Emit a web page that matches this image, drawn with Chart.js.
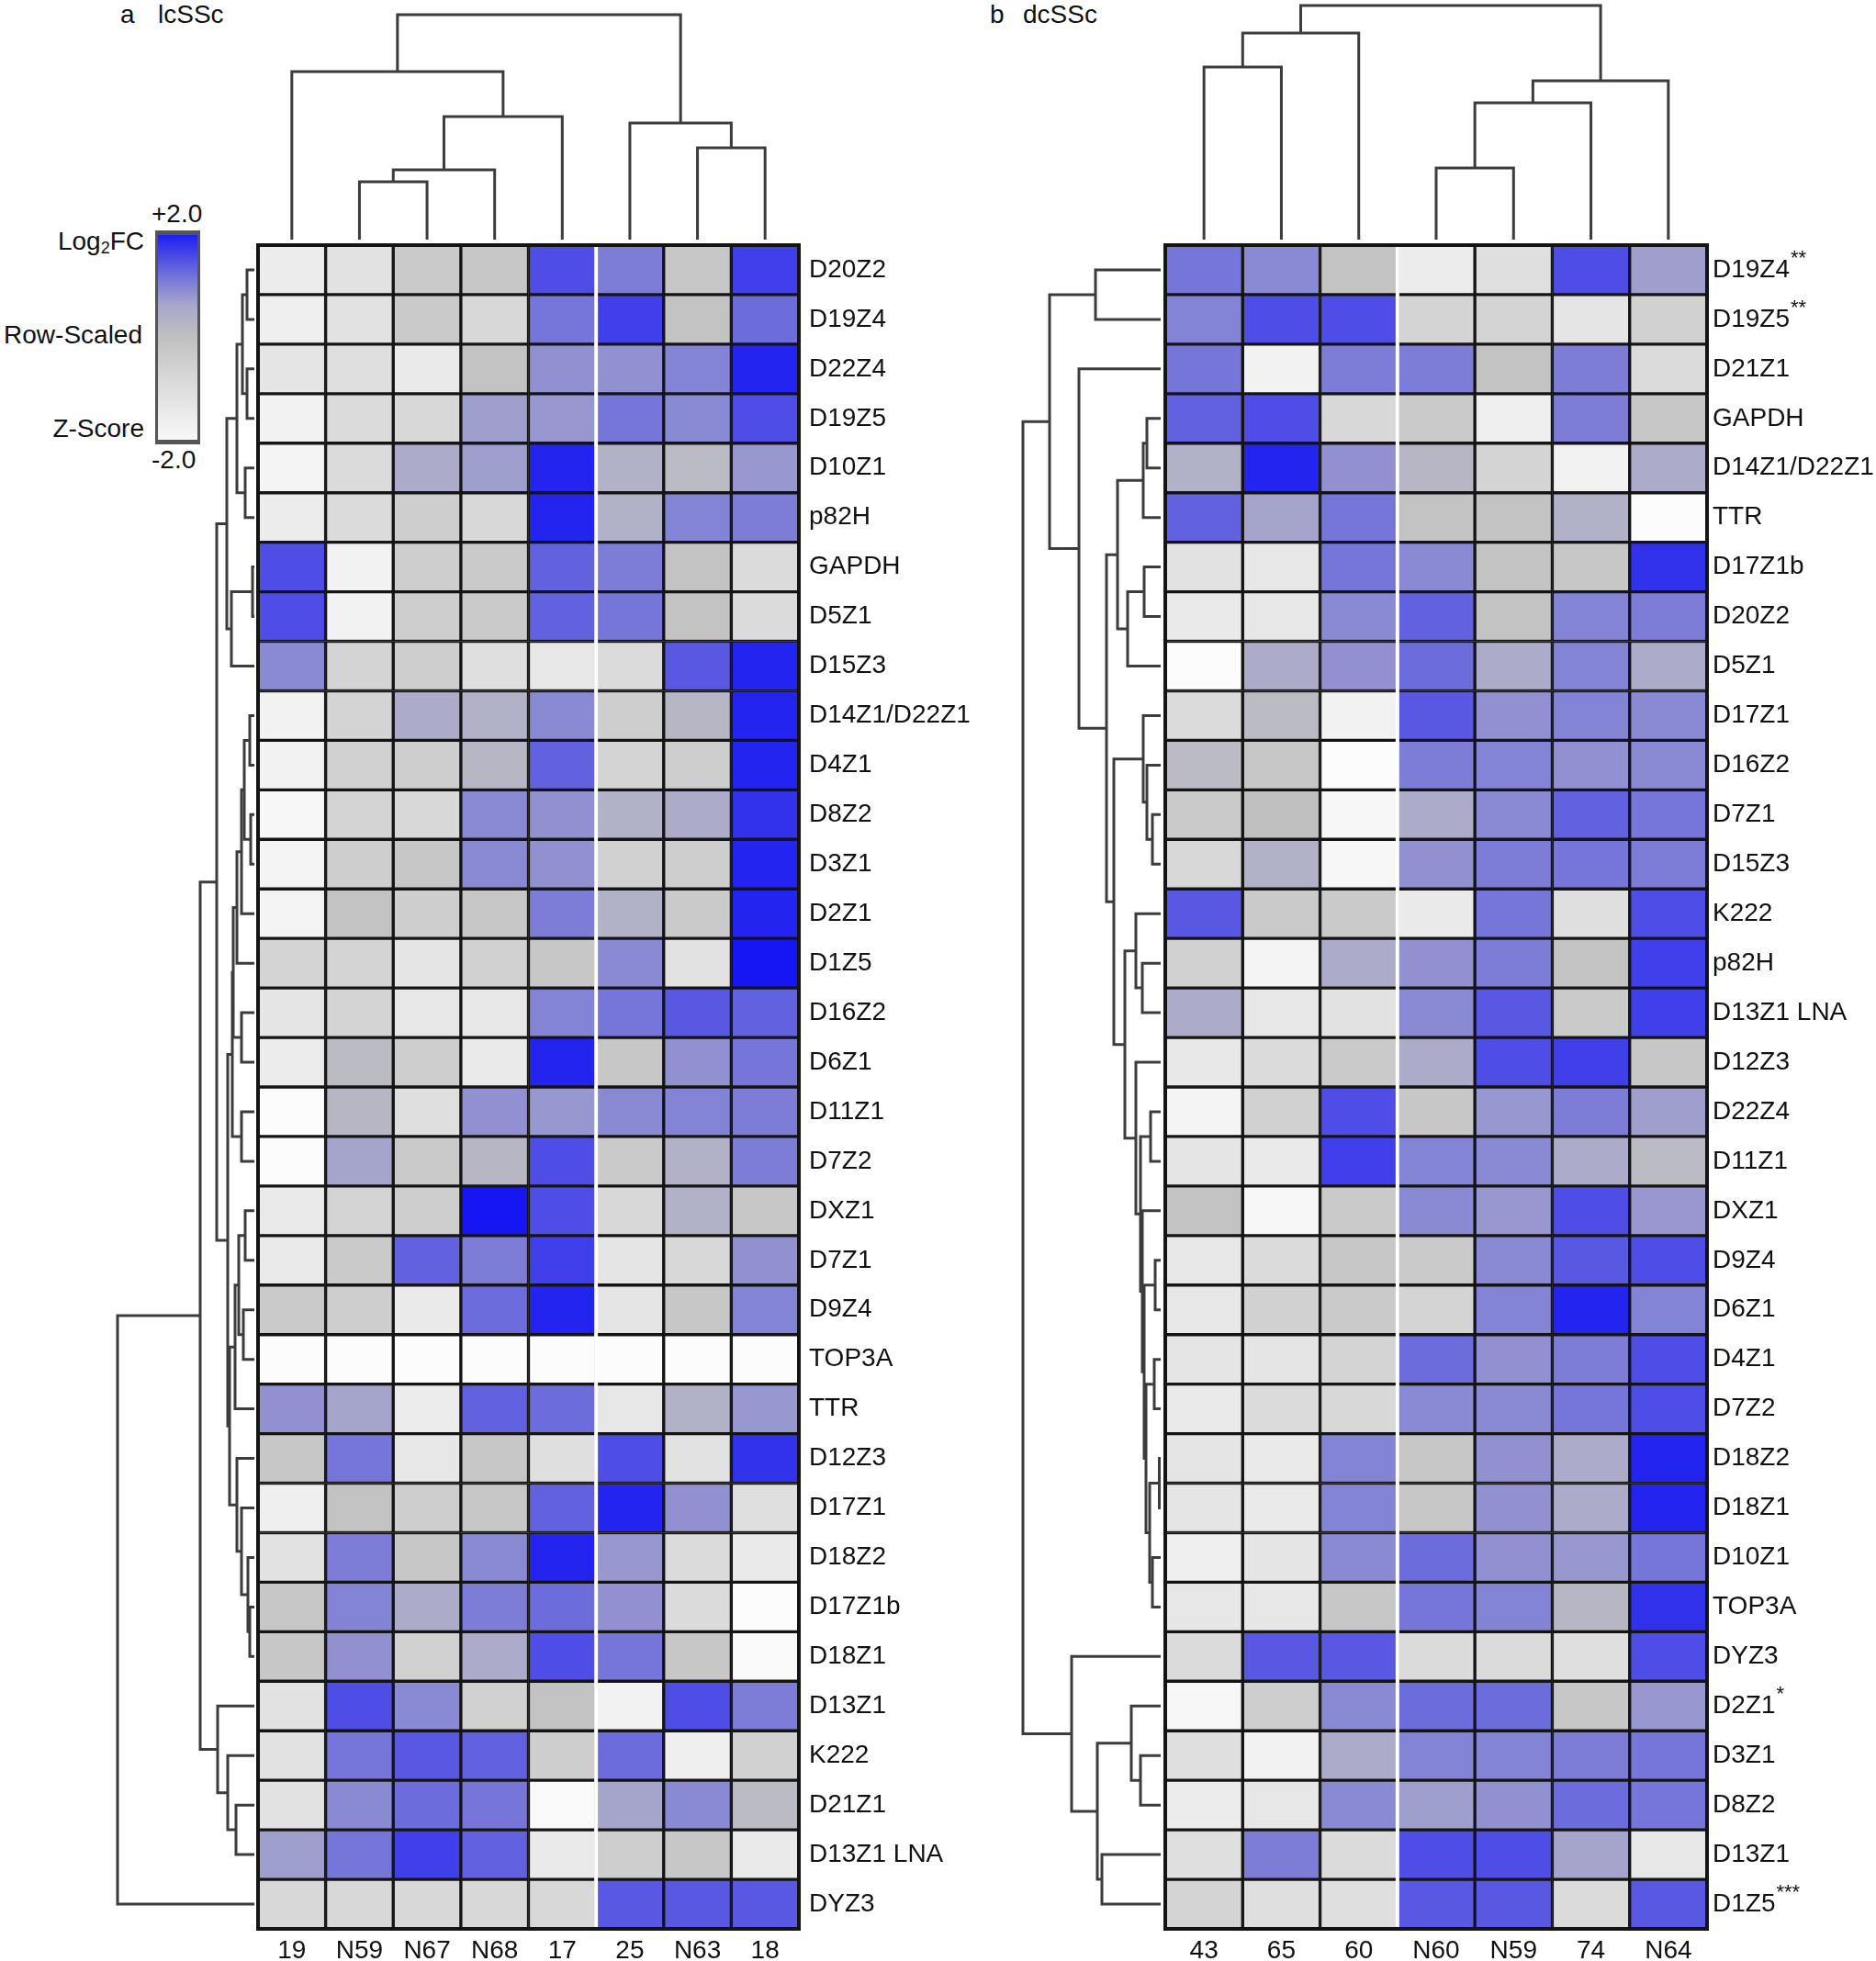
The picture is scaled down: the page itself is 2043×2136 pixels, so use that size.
<!DOCTYPE html>
<html>
<head>
<meta charset="utf-8">
<script src="https://cdn.jsdelivr.net/npm/chart.js@4.4.1/dist/chart.umd.min.js"></script>
<style>
  html, body { margin: 0; padding: 0; background: #fff; }
  body { width: 2043px; height: 2136px; position: relative; overflow: hidden;
         font-family: 'Liberation Sans', Arial, sans-serif; color: #111; }
  .box { position: absolute; }
  .t { position: absolute; font-size: 28px; line-height: 32px; white-space: nowrap; }
  .t sub { font-size: 18px; vertical-align: -4px; line-height: 0; }
  #scale { position: absolute; left: 169px; top: 251px; width: 49px; height: 233px; box-sizing: border-box;
           border: 3px solid #555; border-top-width: 5px; border-bottom-width: 5px;
           background: linear-gradient(to bottom, #1e1ef2 0%, #6a6ade 18%, #a6a6cc 34%, #c0c0c0 50%, #d8d8d8 70%, #f8f8f8 100%); }
</style>
</head>
<body>

<div class="t" style="left:131px; top:0px">a</div>
<div class="t" style="left:172px; top:0px">lcSSc</div>
<div class="t" style="left:1078px; top:0px">b</div>
<div class="t" style="left:1114px; top:0px">dcSSc</div>

<div id="scale"></div>
<div class="t" style="left:165px; top:217px">+2.0</div>
<div class="t" style="left:165px; top:485px">-2.0</div>
<div class="t" style="right:1886px; top:247px">Log<sub>2</sub>FC</div>
<div class="t" style="right:1888px; top:349px">Row-Scaled</div>
<div class="t" style="right:1886px; top:451px">Z-Score</div>

<div class="box" id="lcdBox" style="left:281px; top:0px; width:589px; height:267px"><canvas id="lcd"></canvas></div>
<div class="box" id="lrdBox" style="left:100px; top:267px; width:181px; height:1834px"><canvas id="lrd"></canvas></div>
<div class="box" id="lhBox" style="left:277px; top:263px; width:798px; height:1873px"><canvas id="lh"></canvas></div>

<div class="box" id="rcdBox" style="left:1269px; top:0px; width:590px; height:267px"><canvas id="rcd"></canvas></div>
<div class="box" id="rrdBox" style="left:1090px; top:267px; width:179px; height:1834px"><canvas id="rrd"></canvas></div>
<div class="box" id="rhBox" style="left:1265px; top:263px; width:778px; height:1873px"><canvas id="rh"></canvas></div>

<script>
// ---- panel a: lcSSc ----
const leftCols = ['19', 'N59', 'N67', 'N68', '17', '25', 'N63', '18'];
const leftRows = ['D20Z2', 'D19Z4', 'D22Z4', 'D19Z5', 'D10Z1', 'p82H', 'GAPDH', 'D5Z1', 'D15Z3',
  'D14Z1/D22Z1', 'D4Z1', 'D8Z2', 'D3Z1', 'D2Z1', 'D1Z5', 'D16Z2', 'D6Z1', 'D11Z1', 'D7Z2',
  'DXZ1', 'D7Z1', 'D9Z4', 'TOP3A', 'TTR', 'D12Z3', 'D17Z1', 'D18Z2', 'D17Z1b', 'D18Z1',
  'D13Z1', 'K222', 'D21Z1', 'D13Z1 LNA', 'DYZ3'];
// row-scaled z-scores, one array per row, columns in leftCols order
const leftZ = [
  [-1.4, -1.0, -0.3, -0.2, 1.6, 1.1, -0.2, 1.7],
  [-1.5, -1.0, -0.3, -0.7, 1.2, 1.7, -0.1, 1.3],
  [-1.1, -0.9, -1.3, -0.1, 0.8, 0.8, 1.0, 1.9],
  [-1.6, -0.8, -0.7, 0.6, 0.7, 1.2, 0.9, 1.6],
  [-1.7, -0.8, 0.4, 0.6, 1.9, 0.3, 0.1, 0.7],
  [-1.4, -0.8, -0.4, -0.7, 1.9, 0.3, 1.0, 1.1],
  [1.6, -1.6, -0.4, -0.3, 1.4, 1.1, -0.1, -0.8],
  [1.6, -1.6, -0.4, -0.3, 1.4, 1.2, -0.1, -0.8],
  [0.9, -0.6, -0.4, -0.9, -1.2, -0.8, 1.5, 1.9],
  [-1.6, -0.6, 0.4, 0.3, 0.9, -0.4, 0.2, 1.9],
  [-1.6, -0.5, -0.4, 0.2, 1.4, -0.6, -0.4, 1.9],
  [-1.8, -0.6, -0.7, 0.9, 0.8, 0.3, 0.4, 1.8],
  [-1.7, -0.4, -0.2, 0.9, 0.8, -0.5, -0.4, 1.9],
  [-1.7, -0.1, -0.4, -0.2, 1.1, 0.3, -0.3, 1.9],
  [-0.6, -0.6, -1.1, -0.5, -0.2, 0.9, -1.0, 2.0],
  [-1.1, -0.6, -1.2, -1.2, 1.0, 1.2, 1.5, 1.4],
  [-1.4, 0.1, -0.4, -1.3, 1.9, -0.2, 0.8, 1.2],
  [-2.0, 0.2, -0.9, 0.8, 0.7, 0.9, 1.0, 1.1],
  [-2.0, 0.5, -0.3, 0.2, 1.6, -0.3, 0.3, 1.1],
  [-1.3, -0.6, -0.4, 2.0, 1.6, -0.7, 0.3, -0.2],
  [-1.3, -0.3, 1.4, 1.1, 1.7, -1.1, -0.7, 0.8],
  [-0.3, -0.4, -1.3, 1.3, 1.9, -1.1, -0.2, 1.0],
  [-2.0, -2.0, -2.0, -2.0, -2.0, -2.0, -2.0, -2.0],
  [0.8, 0.5, -1.4, 1.4, 1.3, -1.2, 0.3, 0.7],
  [-0.2, 1.2, -1.2, -0.2, -0.9, 1.6, -1.0, 1.8],
  [-1.5, -0.1, -0.4, -0.2, 1.4, 1.9, 0.8, -0.9],
  [-1.0, 1.1, -0.2, 0.9, 1.9, 0.7, -0.8, -1.3],
  [-0.2, 1.0, 0.4, 1.1, 1.3, 0.8, -0.8, -2.0],
  [-0.2, 0.8, -0.5, 0.4, 1.6, 1.2, -0.2, -1.9],
  [-1.0, 1.6, 0.9, -0.5, -0.1, -1.6, 1.6, 1.1],
  [-1.0, 1.2, 1.5, 1.4, -0.4, 1.3, -1.5, -0.5],
  [-1.0, 0.9, 1.3, 1.2, -1.9, 0.5, 0.9, 0.1],
  [0.6, 1.2, 1.7, 1.4, -1.3, -0.4, -0.2, -1.3],
  [-0.7, -0.7, -0.7, -0.7, -0.7, 1.5, 1.5, 1.5]
];
// linkage: [childA, childB, height]; children >= n are earlier merges
const leftRowTree = [
  [0, 1, 8], [2, 3, 8], [34, 35, 13], [4, 5, 10], [36, 37, 19], [6, 7, 2], [39, 8, 25],
  [38, 40, 30], [9, 10, 5], [11, 12, 4], [42, 43, 11], [44, 13, 14], [45, 14, 19],
  [15, 16, 14], [46, 47, 23], [17, 18, 14], [48, 49, 24], [19, 20, 10], [21, 22, 12],
  [51, 52, 17], [53, 23, 21], [27, 28, 5], [26, 55, 7], [25, 56, 14], [24, 57, 19],
  [54, 58, 27], [50, 59, 29], [41, 60, 41], [31, 32, 20], [30, 62, 29], [29, 63, 40],
  [61, 64, 59], [65, 33, 149]
];
const leftColTree = [[1, 2, 63], [8, 3, 76], [9, 4, 134], [0, 10, 183], [6, 7, 100], [5, 12, 127], [11, 13, 245]];
const leftSplit = 5;

// ---- panel b: dcSSc ----
const rightCols = ['43', '65', '60', 'N60', 'N59', '74', 'N64'];
const rightRows = ['D19Z4**', 'D19Z5**', 'D21Z1', 'GAPDH', 'D14Z1/D22Z1', 'TTR', 'D17Z1b', 'D20Z2',
  'D5Z1', 'D17Z1', 'D16Z2', 'D7Z1', 'D15Z3', 'K222', 'p82H', 'D13Z1 LNA', 'D12Z3', 'D22Z4',
  'D11Z1', 'DXZ1', 'D9Z4', 'D6Z1', 'D4Z1', 'D7Z2', 'D18Z2', 'D18Z1', 'D10Z1', 'TOP3A', 'DYZ3',
  'D2Z1*', 'D3Z1', 'D8Z2', 'D13Z1', 'D1Z5***'];
const rightZ = [
  [1.2, 0.9, -0.1, -1.4, -0.9, 1.6, 0.6],
  [1.0, 1.6, 1.6, -0.6, -0.6, -1.1, -0.5],
  [1.2, -1.6, 1.1, 1.1, -0.1, 1.1, -0.8],
  [1.4, 1.6, -0.7, -0.3, -1.5, 1.1, -0.2],
  [0.3, 1.9, 0.8, 0.2, -0.6, -1.6, 0.4],
  [1.4, 0.5, 1.2, -0.1, -0.1, 0.3, -2.0],
  [-1.0, -1.2, 1.2, 0.9, -0.1, -0.2, 1.8],
  [-1.3, -1.2, 0.9, 1.4, -0.1, 1.0, 1.1],
  [-2.0, 0.4, 0.8, 1.3, 0.4, 1.0, 0.4],
  [-0.8, 0.1, -1.6, 1.5, 0.8, 1.0, 0.9],
  [0.1, -0.2, -2.0, 1.1, 1.0, 0.8, 0.9],
  [-0.3, 0.0, -1.8, 0.4, 0.9, 1.4, 1.2],
  [-0.7, 0.3, -1.8, 0.8, 1.1, 1.2, 1.1],
  [1.5, -0.3, -0.3, -1.3, 1.2, -0.9, 1.6],
  [-0.5, -1.7, 0.4, 0.8, 1.1, -0.1, 1.7],
  [0.4, -1.2, -1.0, 0.9, 1.5, -0.3, 1.7],
  [-1.2, -0.8, -0.3, 0.4, 1.6, 1.7, -0.2],
  [-1.7, -0.5, 1.6, -0.2, 0.7, 1.1, 0.6],
  [-1.1, -1.3, 1.7, 1.0, 0.9, 0.4, 0.1],
  [-0.1, -1.8, -0.3, 0.9, 0.7, 1.6, 0.7],
  [-1.2, -0.8, -0.2, -0.3, 0.9, 1.5, 1.6],
  [-1.2, -0.5, -0.3, -0.6, 1.0, 1.9, 1.0],
  [-1.1, -1.1, -0.6, 1.3, 0.8, 1.1, 1.6],
  [-1.3, -0.8, -0.7, 0.9, 0.9, 1.2, 1.6],
  [-1.1, -1.3, 1.0, -0.2, 0.8, 0.4, 1.9],
  [-1.1, -1.3, 1.0, -0.2, 0.8, 0.4, 1.9],
  [-1.5, -1.1, 0.9, 1.3, 0.8, 0.7, 1.2],
  [-1.2, -1.2, -0.2, 1.2, 1.0, 0.2, 1.8],
  [-0.8, 1.5, 1.5, -0.8, -0.8, -0.9, 1.6],
  [-1.8, -0.4, 0.9, 1.3, 1.3, -0.2, 0.7],
  [-0.9, -1.6, 0.4, 1.0, 1.0, 1.1, 1.2],
  [-1.4, -1.2, 0.9, 0.6, 0.8, 1.3, 1.2],
  [-0.9, 1.1, -0.8, 1.6, 1.6, 0.5, -1.2],
  [-0.6, -0.9, -0.9, 1.5, 1.5, -0.8, 1.5]
];
const rightRowTree = [
  [0, 1, 71], [3, 4, 15], [35, 5, 19], [6, 7, 18], [37, 8, 36], [36, 38, 47], [11, 12, 9],
  [10, 40, 15], [9, 41, 19], [14, 15, 20], [13, 43, 27], [17, 18, 11], [20, 21, 6],
  [22, 23, 7], [24, 25, 1.5], [26, 27, 9], [48, 49, 12], [47, 50, 16], [46, 51, 18],
  [19, 52, 20], [45, 53, 22], [16, 54, 27], [44, 55, 39], [42, 56, 51], [39, 57, 59],
  [2, 58, 89], [34, 59, 121], [30, 31, 22], [29, 61, 32], [32, 33, 64], [62, 63, 69],
  [28, 64, 97], [60, 65, 150]
];
const rightColTree = [[0, 1, 188], [7, 2, 225], [3, 4, 78], [9, 5, 149], [10, 6, 173], [8, 11, 255]];
const rightSplit = 3;

const FONT = "'Liberation Sans', Arial, sans-serif";
const LINE = '#3c3c3c';

// colour ramp: white (-2) -> grey (0) -> blue (+2)
const ramp = [
  [-2.0, [252, 252, 252]], [-1.0, [226, 226, 226]], [0.0, [192, 192, 192]], [0.4, [172, 172, 202]],
  [0.8, [145, 145, 210]], [1.2, [118, 118, 218]], [1.6, [78, 78, 230]], [2.0, [22, 22, 244]]
];
function zColor(z) {
  for (let i = 1; i < ramp.length; i++) {
    if (z <= ramp[i][0]) {
      const [z0, c0] = ramp[i - 1], [z1, c1] = ramp[i];
      const t = Math.max(0, (z - z0) / (z1 - z0));
      const c = c0.map((v, k) => Math.round(v + (c1[k] - v) * t));
      return `rgb(${c[0]},${c[1]},${c[2]})`;
    }
  }
  return 'rgb(22,22,244)';
}

// extra drawing on the heat map: white group split, outer frame, superscript stars
const heatExtras = {
  id: 'heatExtras',
  afterDatasetsDraw(chart, args, opts) {
    const { ctx, chartArea: a, scales: { x } } = chart;
    const xs = (x.getPixelForValue(opts.split - 1) + x.getPixelForValue(opts.split)) / 2;
    ctx.save();
    ctx.strokeStyle = '#fff';
    ctx.lineWidth = 4;
    ctx.beginPath();
    ctx.moveTo(xs, a.top + 2);
    ctx.lineTo(xs, a.bottom - 2);
    ctx.stroke();
    ctx.strokeStyle = '#141414';
    ctx.lineWidth = 4;
    ctx.strokeRect(a.left, a.top, a.right - a.left, a.bottom - a.top);
    ctx.restore();
  },
  afterDraw(chart, args, opts) {
    const { ctx, scales: { y } } = chart;
    ctx.save();
    opts.rows.forEach((name, r) => {
      const m = name.match(/^(.*?)(\*+)$/);
      if (!m) return;
      ctx.font = '28px ' + FONT;
      const w = ctx.measureText(m[1]).width;
      ctx.font = '22px ' + FONT;
      ctx.fillStyle = '#111';
      ctx.textBaseline = 'middle';
      ctx.fillText(m[2], y.left + opts.pad + w + 1, y.getPixelForValue(r) - 12);
    });
    ctx.restore();
  }
};

// keep the plot area exactly where the cells belong: no label overflow padding
function fixBox(size, key) {
  return s => {
    s[key] = size;
    s.paddingTop = 0; s.paddingBottom = 0; s.paddingLeft = 0; s.paddingRight = 0;
  };
}

function heatmap(id, cols, rows, z, split, pad, yWidth) {
  new Chart(document.getElementById(id), {
    type: 'bar',
    data: {
      labels: cols,
      datasets: rows.map((name, r) => ({
        label: name,
        data: cols.map(() => [r - 0.5, r + 0.5]),
        backgroundColor: z[r].map(zColor),
        borderColor: '#141414',
        borderWidth: 2,
        borderSkipped: false,
        categoryPercentage: 1,
        barPercentage: 1
      }))
    },
    options: {
      responsive: true,
      maintainAspectRatio: false,
      animation: false,
      layout: { autoPadding: false, padding: { left: 4, top: 4, right: 0, bottom: 0 } },
      plugins: {
        legend: { display: false },
        tooltip: { enabled: false },
        heatExtras: { split: split, rows: rows, pad: pad }
      },
      scales: {
        x: {
          stacked: true,
          grid: { display: false, drawTicks: false },
          border: { display: false },
          ticks: { color: '#111', font: { family: FONT, size: 28 }, padding: 7, maxRotation: 0, autoSkip: false },
          afterFit: fixBox(35, 'height')
        },
        y: {
          position: 'right',
          reverse: true,
          min: -0.5,
          max: rows.length - 0.5,
          grid: { display: false, drawTicks: false },
          border: { display: false },
          afterBuildTicks: s => { s.ticks = rows.map((_, i) => ({ value: i })); },
          ticks: {
            autoSkip: false, padding: pad, color: '#111', font: { family: FONT, size: 28 },
            callback: v => rows[v] ? rows[v].replace(/\*+$/, '') : ''
          },
          afterFit: fixBox(yWidth, 'width')
        }
      }
    },
    plugins: [heatExtras]
  });
}

// turn a linkage table into one line dataset per merge
function dendroSets(tree, n, horizontal) {
  const pos = [], ht = [];
  for (let i = 0; i < n; i++) { pos.push(i); ht.push(0); }
  return tree.map(([a, b, h]) => {
    const pts = [[pos[a], ht[a]], [pos[a], h], [pos[b], h], [pos[b], ht[b]]];
    pos.push((pos[a] + pos[b]) / 2);
    ht.push(h);
    return {
      data: pts.map(([p, d]) => horizontal ? { x: d, y: p } : { x: p, y: d }),
      showLine: true, pointRadius: 0, borderColor: LINE, borderWidth: 3, tension: 0, fill: false
    };
  });
}

function dendro(id, tree, n, horizontal, xr, yr) {
  new Chart(document.getElementById(id), {
    type: 'scatter',
    data: { datasets: dendroSets(tree, n, horizontal) },
    options: {
      responsive: true,
      maintainAspectRatio: false,
      animation: false,
      layout: { autoPadding: false, padding: 0 },
      plugins: { legend: { display: false }, tooltip: { enabled: false } },
      scales: {
        x: { type: 'linear', display: false, min: xr[0], max: xr[1], reverse: horizontal },
        y: { type: 'linear', display: false, min: yr[0], max: yr[1], reverse: horizontal }
      }
    }
  });
}

heatmap('lh', leftCols, leftRows, leftZ, leftSplit, 11, 205);
heatmap('rh', rightCols, rightRows, rightZ, rightSplit, 6, 184);
dendro('lrd', leftRowTree, leftRows.length, true, [-4, 177], [-0.5, leftRows.length - 0.5]);
dendro('rrd', rightRowTree, rightRows.length, true, [-5, 174], [-0.5, rightRows.length - 0.5]);
dendro('lcd', leftColTree, leftCols.length, false, [-0.5, leftCols.length - 0.5], [-6, 261]);
dendro('rcd', rightColTree, rightCols.length, false, [-0.5, rightCols.length - 0.5], [-6, 261]);
</script>
</body>
</html>
